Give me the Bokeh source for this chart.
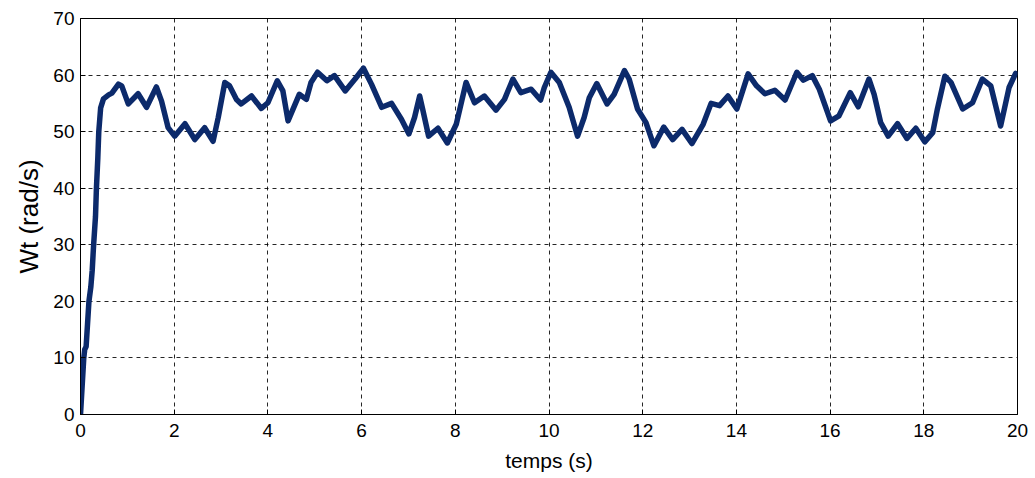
from bokeh.plotting import figure
from bokeh.models import Range1d, FixedTicker
from bokeh.embed import file_html
from bokeh.resources import INLINE

# Data (time in s, Wt in rad/s)
time_s = [0.0, 0.07, 0.09, 0.12, 0.18, 0.22, 0.25, 0.28, 0.32, 0.34, 0.37, 0.39, 0.43,
          0.49, 0.60, 0.67, 0.81, 0.88, 1.02, 1.23, 1.41, 1.62, 1.73, 1.87, 2.01,
          2.23, 2.44, 2.65, 2.83, 2.94, 3.08, 3.18, 3.33, 3.43, 3.65, 3.86, 4.00,
          4.20, 4.32, 4.43, 4.67, 4.82, 4.92, 5.06, 5.26, 5.42, 5.65, 5.86, 6.04,
          6.21, 6.43, 6.64, 6.85, 7.01, 7.13, 7.24, 7.31, 7.43, 7.63, 7.83, 8.02,
          8.23, 8.41, 8.62, 8.87, 9.05, 9.23, 9.40, 9.62, 9.82, 9.90, 10.04, 10.22,
          10.43, 10.61, 10.75, 10.86, 11.02, 11.24, 11.39, 11.61, 11.71, 11.89,
          12.07, 12.24, 12.45, 12.64, 12.84, 13.05, 13.29, 13.46, 13.64, 13.82,
          14.01, 14.25, 14.43, 14.61, 14.82, 15.04, 15.29, 15.43, 15.62, 15.77,
          16.01, 16.19, 16.43, 16.60, 16.83, 16.94, 17.08, 17.24, 17.44, 17.64,
          17.83, 18.02, 18.19, 18.29, 18.45, 18.58, 18.83, 19.04, 19.25, 19.43,
          19.64, 19.82, 19.96]
wt_rad_s = [0.0, 10.0, 11.5, 12.0, 20.0, 22.5, 25.5, 30.0, 35.0, 40.0, 45.4, 50.0, 54.2,
            55.8, 56.5, 56.8, 58.4, 58.1, 54.9, 56.7, 54.3, 57.9, 55.4, 50.7, 49.2,
            51.4, 48.6, 50.7, 48.3, 52.5, 58.7, 58.1, 55.7, 54.9, 56.3, 54.1, 55.1,
            59.0, 57.2, 51.9, 56.6, 55.7, 58.7, 60.5, 59.0, 59.9, 57.2, 59.3, 61.2,
            58.4, 54.3, 55.0, 52.2, 49.6, 52.5, 56.3, 53.7, 49.2, 50.6, 48.0, 51.3,
            58.7, 55.1, 56.3, 53.8, 55.7, 59.3, 56.9, 57.5, 55.6, 57.8, 60.5, 58.7,
            54.3, 49.2, 52.5, 56.0, 58.5, 54.9, 56.6, 60.8, 59.3, 54.0,
            51.6, 47.5, 50.8, 48.6, 50.4, 47.9, 51.3, 55.0, 54.6, 56.3,
            54.0, 60.2, 58.1, 56.7, 57.3, 55.6, 60.5, 59.1, 59.9, 57.5,
            51.9, 52.8, 56.9, 54.4, 59.3, 56.6, 51.6, 49.2, 51.4, 48.8,
            50.6, 48.2, 49.8, 54.0, 59.8, 58.7, 54.0, 55.1, 59.3, 58.1,
            51.0, 57.8, 60.3]
x_ticks = [0, 2, 4, 6, 8, 10, 12, 14, 16, 18, 20]
y_ticks = [0, 10, 20, 30, 40, 50, 60, 70]

p = figure(width=1028, height=477, output_backend="svg", toolbar_location=None,
           x_range=Range1d(0, 20), y_range=Range1d(0, 70),
           min_border_left=80, min_border_right=11, min_border_top=18, min_border_bottom=63)

p.line(time_s, wt_rad_s, line_color="#0c2a6b", line_width=5.5, line_join="round", line_cap="round")

font = "Liberation Sans"
for ax in (p.xaxis, p.yaxis):
    ax.major_label_text_font = font
    ax.major_label_text_font_size = "19px"
    ax.major_label_text_color = "black"
    ax.axis_label_text_font = font
    ax.axis_label_text_font_style = "normal"
    ax.axis_label_text_color = "black"
    ax.axis_line_color = "black"
    ax.major_tick_line_color = "black"
    ax.major_tick_in = 5
    ax.major_tick_out = 0
    ax.minor_tick_line_color = None

p.xaxis.ticker = FixedTicker(ticks=x_ticks)
p.yaxis.ticker = FixedTicker(ticks=y_ticks)
p.xaxis.axis_label = "temps (s)"
p.yaxis.axis_label = "Wt (rad/s)"
p.xaxis.axis_label_text_font_size = "21px"
p.yaxis.axis_label_text_font_size = "26px"
p.xaxis.major_label_standoff = 9
p.yaxis.major_label_standoff = 6
p.xaxis.axis_label_standoff = 9
p.yaxis.axis_label_standoff = 6

p.xgrid.grid_line_color = "black"
p.ygrid.grid_line_color = "black"
p.xgrid.grid_line_dash = "4 4"
p.ygrid.grid_line_dash = "4 4"
p.xgrid.grid_line_alpha = 0.85
p.ygrid.grid_line_alpha = 0.85
p.outline_line_color = "black"
p.outline_line_width = 1
p.outline_line_alpha = 1
p.background_fill_color = "white"
p.border_fill_color = "white"

open("out.html", "w").write(file_html(p, INLINE))
